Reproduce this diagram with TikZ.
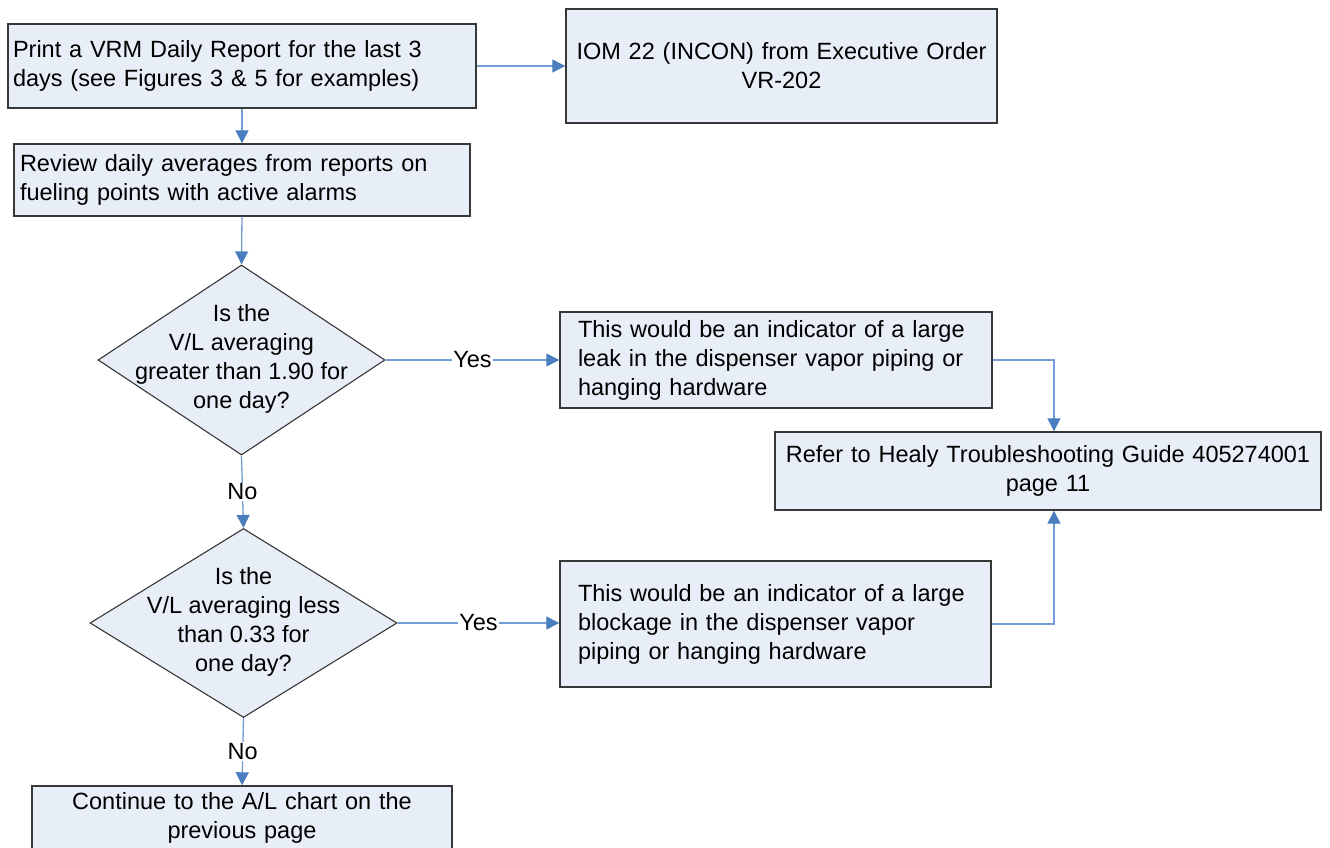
\documentclass[tikz,border=0pt]{standalone}
\usepackage{fontspec}
\setmainfont{Liberation Sans}
\usetikzlibrary{arrows.meta,shapes.geometric}

\definecolor{boxfill}{RGB}{232,238,247}
\definecolor{boxline}{RGB}{55,55,55}
\definecolor{flowline}{RGB}{115,155,212}
\definecolor{flowtip}{RGB}{74,126,190}

% centred, zero-size text so the diamond keeps its own dimensions
\newcommand{\dtext}[1]{\makebox[0pt]{\smash{\raisebox{-0.25em}{\begin{tabular}{@{}c@{}}#1\end{tabular}}}}}

\begin{document}
\begin{tikzpicture}[x=1pt,y=-1pt,
  every node/.style={font=\fontsize{23.5}{29}\selectfont},
  procbox/.style={draw=boxline, line width=1.4pt, fill=boxfill, rectangle, inner ysep=0pt},
  leftbox/.style={procbox, align=left},
  centerbox/.style={procbox, align=center, inner xsep=0pt},
  decision/.style={draw=boxline, line width=1.1pt, fill=boxfill, diamond, inner sep=0pt},
  flow/.style={draw=flowline, line width=1.3pt, -{Triangle[length=13pt,width=13pt,color=flowtip]}},
  answer/.style={fill=white, inner sep=1pt}
]
\useasboundingbox (0,0) rectangle (1330,848);

% process boxes
\node[leftbox, text width=458pt, inner xsep=5pt, minimum height=84pt] (print) at (242,66)
  {Print a VRM Daily Report for the last 3\\days (see Figures 3 \& 5 for examples)};
\node[centerbox, text width=431pt, minimum height=114pt] (iom) at (781.5,66)
  {IOM 22 (INCON) from Executive Order\\VR-202};
\node[leftbox, text width=444pt, inner xsep=6pt, minimum height=72pt] (review) at (242,180)
  {Review daily averages from reports on\\fueling points with active alarms};

% decisions
\node[decision, minimum width=287pt, minimum height=190pt] (d1) at (241.5,360)
  {\dtext{Is the\\V/L averaging\\greater than 1.90 for\\one day?}};
\node[decision, minimum width=307pt, minimum height=189pt] (d2) at (243.5,623)
  {\dtext{Is the\\V/L averaging less\\than 0.33 for\\one day?}};

% outcomes
\node[leftbox, text width=396pt, inner xsep=18pt, minimum height=96pt] (leak) at (776,360)
  {This would be an indicator of a large\\leak in the dispenser vapor piping or\\hanging hardware};
\node[leftbox, text width=395pt, inner xsep=18pt, minimum height=126pt] (block) at (775.5,624)
  {This would be an indicator of a large\\blockage in the dispenser vapor\\piping or hanging hardware};
\node[centerbox, text width=546pt, minimum height=78pt] (refer) at (1048,471)
  {Refer to Healy Troubleshooting Guide 405274001\\page 11};
\node[centerbox, text width=420pt, minimum height=64pt] (cont) at (242,818)
  {Continue to the A/L chart on the\\previous page};

% connectors
\draw[flow] (print.east |- 0,66) -- (iom.west |- 0,66);
\draw[flow] (print.south) -- (review.north);
\draw[flow] (review.south) -- (d1.north);
\draw[flow] (d1.south) -- node[answer] (no1) {No} (d2.north);
\draw[flow] (d1.east) -- node[answer] (yes1) {Yes} (leak.west |- d1.east);
\draw[flow] (d2.east) -- node[answer] (yes2) {Yes} (block.west |- d2.east);
\draw[flow] (d2.south) -- node[answer] (no2) {No} (cont.north);
\draw[flow] (leak.east) -| ([xshift=6pt]refer.north);
\draw[flow] (block.east) -| ([xshift=6pt]refer.south);
\end{tikzpicture}
\end{document}
